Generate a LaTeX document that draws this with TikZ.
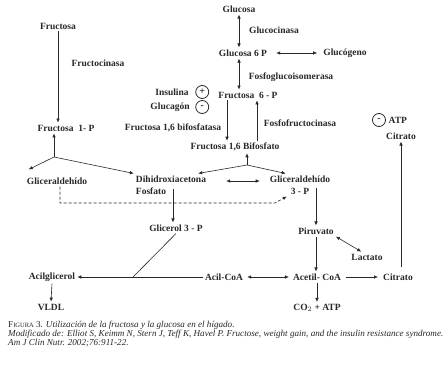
\documentclass[tikz,border=0pt]{standalone}
\usepackage{fontspec}
\setmainfont{Liberation Serif}
\usetikzlibrary{arrows.meta,positioning}
\definecolor{inkgray}{RGB}{40,40,40}

\begin{document}
\begin{tikzpicture}[x=1pt,y=-1pt]
  \tikzstyle{lbl}=[inner sep=2pt,text=inkgray,font=\fontsize{9.5}{12}\selectfont\bfseries]
  \tikzstyle{reg}=[draw=inkgray,thick,circle,minimum size=13pt,inner sep=0pt,
    text=inkgray,font=\fontsize{10}{10}\selectfont\bfseries]
  \tikzstyle{flow}=[-{Latex[length=4pt,width=3.5pt]},inkgray,semithick]
  \tikzstyle{both}=[{Latex[length=4pt,width=3.5pt]}-{Latex[length=4pt,width=3.5pt]},inkgray,semithick]
  \tikzstyle{plain}=[inkgray,semithick]
  \tikzstyle{dashline}=[-{Latex[length=4pt,width=3.5pt]},inkgray,semithick,densely dashed]
  \tikzstyle{capt}=[anchor=base west,inner sep=0pt,text=inkgray,font=\fontsize{9.1}{9}\selectfont\itshape]

  \useasboundingbox[fill=white] (0,0) rectangle (447,371);

  % -- Fructose entry --
  \node[lbl] (fru) at (58,26) {Fructosa};
  \node[lbl] (fruk) at (98,63) {Fructocinasa};
  \node[lbl] (f1p) at (66,128) {Fructosa\ \ 1- P};
  \coordinate (split1) at (54,157);

  % -- Glucose entry --
  \node[lbl] (glc) at (239,9) {Glucosa};
  \node[lbl] (gk) at (274,30) {Glucocinasa};
  \node[lbl] (g6p) at (243,53) {Glucosa 6 P};
  \node[lbl] (glucogeno) at (345,53) {Glucógeno};
  \node[lbl] (pgi) at (291,77) {Fosfoglucoisomerasa};
  \node[lbl] (f6p) at (248,95) {Fructosa\ \ 6 - P};
  \node[lbl] (pfk) at (300,123) {Fosfofructocinasa};
  \node[lbl] (fbpasa) at (173,128) {Fructosa 1,6 bifosfatasa};
  \node[lbl] (f16bp) at (235,147) {Fructosa 1,6 Bifosfato};
  \coordinate (split2) at (247,165);

  % -- Hormonal regulation --
  \node[lbl] (insulina) at (172,92) {Insulina};
  \node[reg,right=4.5pt of insulina] (plus) {+};
  \node[lbl] (glucagon) at (170,107) {Glucagón};
  \node[reg] (minus) at (plus |- glucagon) {-};
  \node[reg] (atpc) at (379,120) {-};
  \node[lbl,right=0.5pt of atpc] (atp) {ATP};
  \node[lbl] (cit1) at (401,136) {Citrato};

  % -- Trioses --
  \node[lbl] (gald) at (57,181) {Gliceraldehído};
  \node[lbl,align=left] (dhap) at (171,185) {Dihidroxiacetona\\Fosfato};
  \node[lbl,align=center] (g3p) at (300,185) {Gliceraldehído\\3 - P};
  \coordinate (dcorner) at (275,203);
  \node[lbl] (gl3p) at (176,228) {Glicerol 3 - P};
  \node[lbl] (pir) at (316,231) {Piruvato};
  \node[lbl] (lac) at (367,257) {Lactato};

  % -- Lipogenesis / oxidation --
  \node[lbl] (acilg) at (52,277) {Acilglicerol};
  \node[lbl] (acilcoa) at (224,277) {Acil-CoA};
  \coordinate (meet) at (133,277);
  \node[lbl] (acetil) at (317,277) {Acetil- CoA};
  \node[lbl] (cit2) at (398,277) {Citrato};
  \node[lbl] (vldl) at (51,307) {VLDL};
  \node[lbl] (co2) at (317,308) {CO$_2$ + ATP};

  % -- Flows --
  \draw[flow] (fru.south) -- (fru.south |- f1p.north);
  \draw[flow] (split1) -- (split1 |- f1p.south);
  \draw[flow] (split1) -- ([xshift=4pt,yshift=6pt]gald.north west);
  \draw[flow] (split1) -- (dhap.north west);
  \draw[both] (glc.south) -- (glc.south |- g6p.north);
  \draw[both,shorten <=7pt,shorten >=4pt] (g6p.east) -- (glucogeno.west);
  \draw[both] (glc.south |- g6p.south) -- (glc.south |- f6p.north);
  \draw[flow] ([xshift=-21pt]f6p.south) -- ([xshift=-21pt]f6p.south |- f16bp.north);
  \draw[flow] ([xshift=22pt]f16bp.north) -- ([xshift=22pt]f16bp.north |- f6p.south);
  \draw[flow] (split2) -- (split2 |- f16bp.south);
  \draw[flow] (split2) -- ([xshift=-10pt]dhap.north east);
  \draw[flow] (split2) -- ([xshift=18pt]g3p.north west);
  \draw[both,shorten <=18pt,shorten >=8pt] ([yshift=4pt]dhap.east) -- ([yshift=4pt]g3p.west);
  \draw[dashline] ([xshift=3pt]gald.south) |- (dcorner) -- ([xshift=19pt]g3p.south west);
  \draw[flow] ([xshift=2pt,yshift=-4pt]dhap.center) -- ([xshift=2pt]dhap.center |- gl3p.north);
  \draw[flow,shorten <=3pt] (g3p.center -| pir.north) -- (pir.north);
  \draw[both] (pir.south east) -- ([xshift=12pt]lac.north west);
  \draw[flow] (pir.south) -- (pir.south |- acetil.north);
  \draw[flow,shorten <=3pt,shorten >=3pt] (acetil.east) -- (cit2.west);
  \draw[both,shorten <=2pt,shorten >=2pt] (acilcoa.east) -- (acetil.west);
  \draw[flow] (acetil.south) -- (co2.north);
  \draw[flow] ([xshift=3pt,yshift=4pt]cit2.north) -- ([xshift=3pt]cit2.north |- cit1.south);
  \draw[flow] (acilcoa.west) -- (acilg.east);
  \draw[plain] (gl3p.south) -- (meet);
  \draw[flow] (acilg.south) -- (vldl.north);

  % -- Caption --
  \node[capt] (cap1) at (8,327.5) {\textup{F{\fontsize{6.5}{6.5}\selectfont IGURA} 3}. Utilización de la fructosa y la glucosa en el hígado.};
  \node[capt] (cap2) at (8,336.5) {Modificado de: Elliot S, Keimm N, Stern J, Teff K, Havel P. Fructose, weight gain, and the insulin resistance syndrome.};
  \node[capt] (cap3) at (8,345) {Am J Clin Nutr. 2002;76:911-22.};
\end{tikzpicture}
\end{document}
